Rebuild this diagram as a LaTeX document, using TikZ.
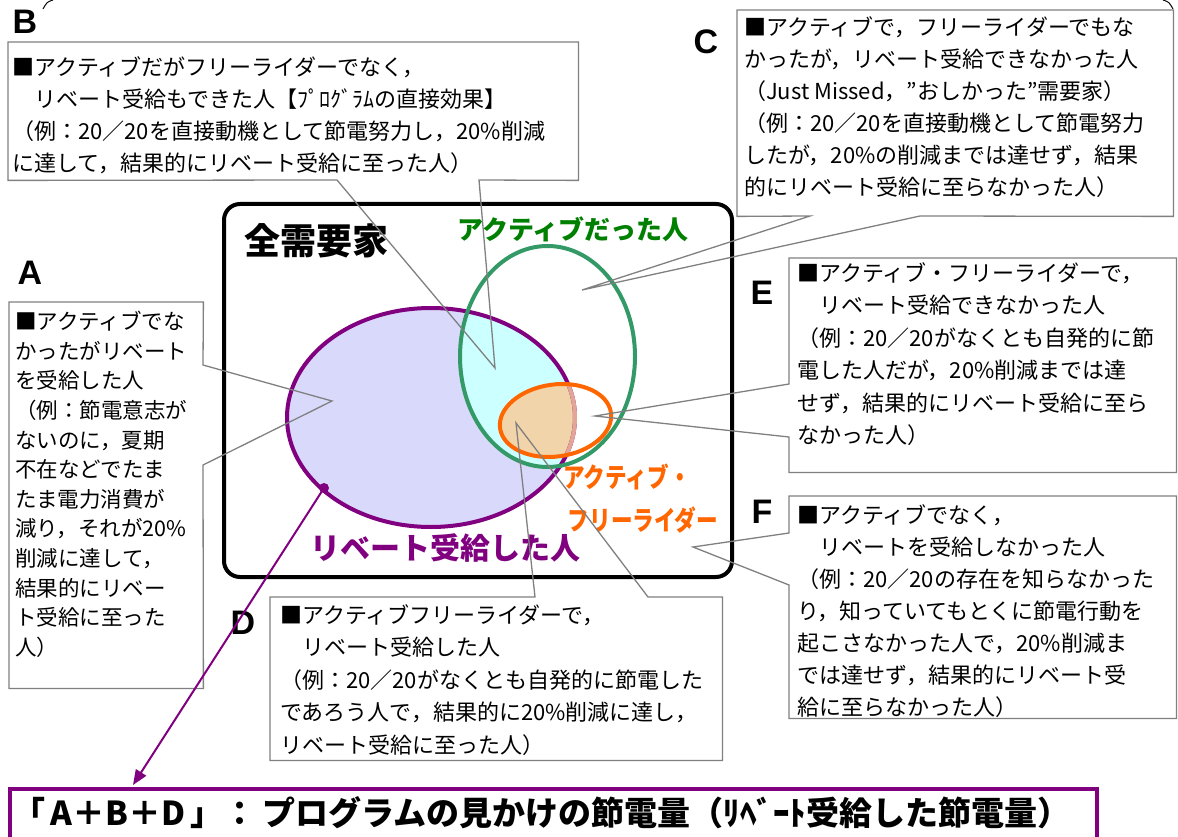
\documentclass[tikz,border=0pt]{standalone}
\usepackage{fontspec}
\usepackage{graphicx}
\setmainfont{Noto Sans CJK JP}
\newfontfamily\lat{Liberation Sans}
\usetikzlibrary{arrows.meta}
\definecolor{boxgray}{HTML}{808080}
\definecolor{greenl}{HTML}{339966}
\definecolor{greent}{HTML}{008000}
\definecolor{purp}{HTML}{800080}
\definecolor{orng}{HTML}{FF6600}
\definecolor{lav}{HTML}{D9D9FB}
\definecolor{cyanf}{HTML}{CCFFFF}
\definecolor{tanf}{HTML}{F2D4AA}
\definecolor{pinkb}{HTML}{E3A595}
\begin{document}
\begin{tikzpicture}[x=1pt,y=-1pt,
  cbox/.style={fill=white, draw=none, inner sep=0pt, anchor=north west},
  cline/.style={draw=boxgray, line width=1.3pt, line join=miter},
  btxt/.style={anchor=north west, align=left, inner sep=0pt, font=\fontsize{22}{32}\selectfont},
  letter/.style={font=\lat\bfseries\fontsize{34}{34}\selectfont, inner sep=0pt},
  ring/.style={line width=4pt}]
\useasboundingbox (0,0) rectangle (1178,837);
\clip (0,0) rectangle (1178,837);
\fill[white] (0,0) rectangle (1178,837);

% partial frame corners at the top
\draw[line width=1pt] (53,0) .. controls (47,2) .. (43,9);
\draw[line width=1pt] (1163,0) .. controls (1169,2) .. (1173,9);

% main frame
\node[draw=black, line width=4pt, rounded corners=16pt, minimum width=508pt, minimum height=373pt, anchor=north west, inner sep=0pt] (all) at (222,202) {};

% ellipses
\coordinate (pc) at (431,417.5);
\coordinate (gc) at (547.5,356.5);
\coordinate (oc) at (555.5,420.5);
\fill[lav] (pc) ellipse [x radius=144pt, y radius=109.5pt];
\begin{scope}
  \clip (pc) ellipse [x radius=144pt, y radius=109.5pt];
  \fill[cyanf] (gc) ellipse [x radius=87.5pt, y radius=110.5pt];
  \fill[tanf] (oc) ellipse [x radius=56pt, y radius=36pt, rotate=8];
\end{scope}
\draw[ring, purp] (pc) ellipse [x radius=144pt, y radius=109.5pt];
\begin{scope}
  \clip (oc) ellipse [x radius=56pt, y radius=36pt, rotate=8];
  \draw[ring, pinkb] (pc) ellipse [x radius=144pt, y radius=109.5pt];
\end{scope}
\draw[ring, greenl] (gc) ellipse [x radius=87.5pt, y radius=110.5pt];
\draw[ring, orng] (oc) ellipse [x radius=56pt, y radius=36pt, rotate=8];

% diagram labels
\node[font=\bfseries\fontsize{36}{36}\selectfont] (tall) at (316,241) {全需要家};
\node[text=greent, font=\bfseries\fontsize{26}{26}\selectfont] (lact) at (573,229) {アクティブだった人};
\node[text=purp, font=\bfseries\fontsize{30}{30}\selectfont] (lreb) at (445,548) {リベート受給した人};
\node[text=orng, font=\bfseries\fontsize{27}{27}\selectfont] (lfr1) at (627,477) {\scalebox{0.8}[1]{アクティブ・}};
\node[text=orng, font=\bfseries\fontsize{27}{27}\selectfont] (lfr2) at (643,520) {\scalebox{0.8}[1]{フリーライダー}};

% callout boxes
\node[cbox, minimum width=570pt, minimum height=138pt] (Bbox) at (8,42) {};
\node[cbox, minimum width=436pt, minimum height=206pt] (Cbox) at (737,10) {};
\node[cbox, minimum width=194pt, minimum height=386pt] (Abox) at (9,302) {};
\node[cbox, minimum width=387pt, minimum height=214pt] (Ebox) at (789,258) {};
\node[cbox, minimum width=387pt, minimum height=222pt] (Fbox) at (789,496) {};
\node[cbox, minimum width=452pt, minimum height=163pt] (Dbox) at (270,597) {};

\coordinate (Bw1) at (337,180); \coordinate (Bw2) at (479,180); \coordinate (Btip) at (495,368);
\coordinate (Cw1) at (810,216); \coordinate (Cw2) at (920,216); \coordinate (Ctip) at (582,290);
\coordinate (Aw1) at (203,365); \coordinate (Aw2) at (203,465); \coordinate (Atip) at (332,401);
\coordinate (Ew1) at (789,384); \coordinate (Ew2) at (789,437); \coordinate (Etip) at (595,416);
\coordinate (Fw1) at (789,533); \coordinate (Fw2) at (789,585); \coordinate (Ftip) at (693,547);
\coordinate (Dw1) at (535,597); \coordinate (Dw2) at (648,597); \coordinate (Dtip) at (516,423);

\draw[cline] (Bbox.north west) -- (Bbox.north east) -- (Bbox.south east) -- (Bw2) -- (Btip) -- (Bw1) -- (Bbox.south west) -- cycle;
\draw[cline] (Cbox.north west) -- (Cbox.north east) -- (Cbox.south east) -- (Cw2) -- (Ctip) -- (Cw1) -- (Cbox.south west) -- cycle;
\draw[cline] (Abox.north west) -- (Abox.north east) -- (Aw1) -- (Atip) -- (Aw2) -- (Abox.south east) -- (Abox.south west) -- cycle;
\draw[cline] (Ebox.north east) -- (Ebox.north west) -- (Ew1) -- (Etip) -- (Ew2) -- (Ebox.south west) -- (Ebox.south east) -- cycle;
\draw[cline] (Fbox.north east) -- (Fbox.north west) -- (Fw1) -- (Ftip) -- (Fw2) -- (Fbox.south west) -- (Fbox.south east) -- cycle;
\draw[cline] (Dbox.south west) -- (Dbox.north west) -- (Dw1) -- (Dtip) -- (Dw2) -- (Dbox.north east) -- (Dbox.south east) -- cycle;

% box texts
\node[btxt] (Btxt) at (12,56) {■アクティブだがフリーライダーでなく，\\
　リベート受給もできた人【ﾌﾟﾛｸﾞﾗﾑの直接効果】\\
（例：20／20を直接動機として節電努力し，20\%削減\\
に達して，結果的にリベート受給に至った人）};
\node[btxt] (Ctxt) at (744,16) {■アクティブで，フリーライダーでもな\\
かったが，リベート受給できなかった人\\
（Just Missed，”おしかった”需要家）\\
（例：20／20を直接動機として節電努力\\
したが，20\%の削減までは達せず，結果\\
的にリベート受給に至らなかった人）};
\node[btxt, font=\fontsize{21.5}{29.6}\selectfont] (Atxt) at (15,311) {■アクティブでな\\
かったがリベート\\
を受給した人\\
（例：節電意志が\\
ないのに，夏期\\
不在などでたま\\
たま電力消費が\\
減り，それが20\%\\
削減に達して，\\
結果的にリベー\\
ト受給に至った\\
人）};
\node[btxt, font=\fontsize{22}{32.5}\selectfont] (Etxt) at (797,262) {■アクティブ・フリーライダーで，\\
　リベート受給できなかった人\\
（例：20／20がなくとも自発的に節\\
電した人だが，20\%削減までは達\\
せず，結果的にリベート受給に至ら\\
なかった人）};
\node[btxt] (Ftxt) at (797,504) {■アクティブでなく，\\
　リベートを受給しなかった人\\
（例：20／20の存在を知らなかった\\
り，知っていてもとくに節電行動を\\
起こさなかった人で，20\%削減ま\\
では達せず，結果的にリベート受\\
給に至らなかった人）};
\node[btxt, font=\fontsize{22}{32.5}\selectfont] (Dtxt) at (280,604) {■アクティブフリーライダーで，\\
　リベート受給した人\\
（例：20／20がなくとも自発的に節電した\\
であろう人で，結果的に20\%削減に達し，\\
リベート受給に至った人）};

% letters
\node[letter] (LA) at (30,273) {A};
\node[letter] (LB) at (25,22) {B};
\node[letter] (LC) at (706,42) {C};
\node[letter] (LD) at (243,623) {D};
\node[letter] (LE) at (762,293) {E};
\node[letter] (LF) at (762,512) {F};

% bottom bar
\node[draw=purp, line width=4pt, anchor=north west, minimum width=1087pt, minimum height=80pt, inner sep=0pt] (bar) at (8,787) {};
\node[anchor=west, inner sep=0pt, font=\bfseries\fontsize{33}{33}\selectfont] (bartxt) at (12,813) {「\,A＋B＋D\,」：\,プログラムの見かけの節電量（ﾘﾍﾞｰﾄ受給した節電量）};

% arrow
\coordinate (dotp) at (324,488);
\coordinate (arrtip) at (133,785);
\fill[purp] (dotp) circle (5pt);
\draw[purp, line width=2pt, -{Triangle[length=15pt,width=12pt]}] (dotp) -- (arrtip);
\end{tikzpicture}
\end{document}
